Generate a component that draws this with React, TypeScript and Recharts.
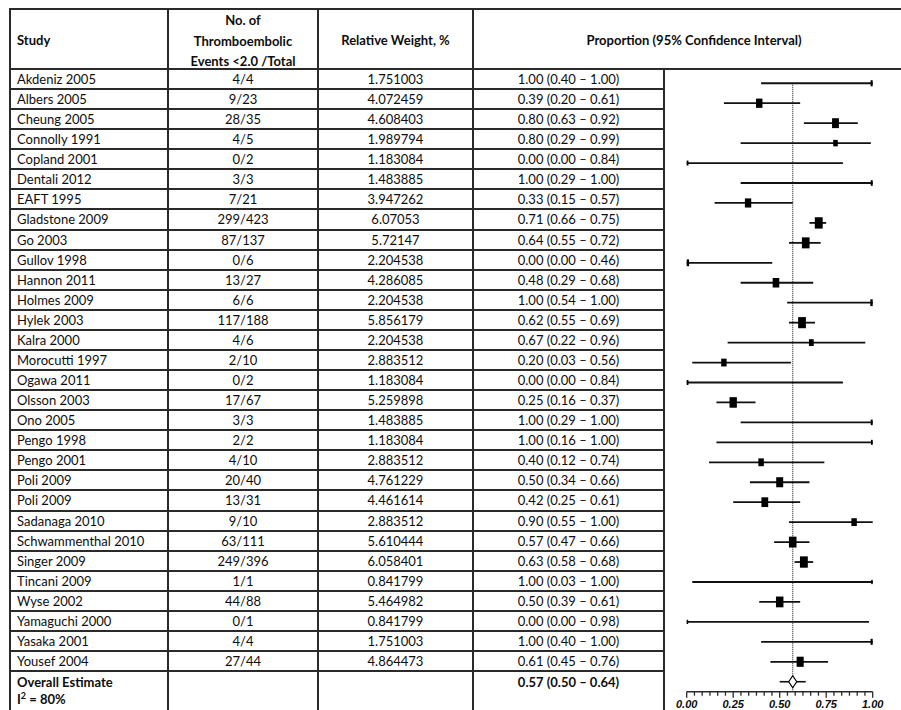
import React from 'react'
import { ScatterChart, Scatter, XAxis, YAxis, ErrorBar, ReferenceLine } from 'recharts'

const studies = [
  'Akdeniz 2005', 'Albers 2005', 'Cheung 2005', 'Connolly 1991', 'Copland 2001', 'Dentali 2012',
  'EAFT 1995', 'Gladstone 2009', 'Go 2003', 'Gullov 1998', 'Hannon 2011', 'Holmes 2009',
  'Hylek 2003', 'Kalra 2000', 'Morocutti 1997', 'Ogawa 2011', 'Olsson 2003', 'Ono 2005',
  'Pengo 1998', 'Pengo 2001', 'Poli 2009', 'Poli 2009', 'Sadanaga 2010', 'Schwammenthal 2010',
  'Singer 2009', 'Tincani 2009', 'Wyse 2002', 'Yamaguchi  2000', 'Yasaka  2001', 'Yousef 2004'
]
const events = [
  '4/4', '9/23', '28/35', '4/5', '0/2', '3/3', '7/21', '299/423', '87/137', '0/6', '13/27', '6/6',
  '117/188', '4/6', '2/10', '0/2', '17/67', '3/3', '2/2', '4/10', '20/40', '13/31', '9/10', '63/111',
  '249/396', '1/1', '44/88', '0/1', '4/4', '27/44'
]
const weights = [
  '1.751003', '4.072459', '4.608403', '1.989794', '1.183084', '1.483885', '3.947262', '6.07053',
  '5.72147', '2.204538', '4.286085', '2.204538', '5.856179', '2.204538', '2.883512', '1.183084',
  '5.259898', '1.483885', '1.183084', '2.883512', '4.761229', '4.461614', '2.883512', '5.610444',
  '6.058401', '0.841799', '5.464982', '0.841799', '1.751003', '4.864473'
]
const estimates = [
  1.0, 0.39, 0.8, 0.8, 0.0, 1.0, 0.33, 0.71, 0.64, 0.0, 0.48, 1.0, 0.62, 0.67, 0.2, 0.0, 0.25, 1.0,
  1.0, 0.4, 0.5, 0.42, 0.9, 0.57, 0.63, 1.0, 0.5, 0.0, 1.0, 0.61
]
const lowerCI = [
  0.4, 0.2, 0.63, 0.29, 0.0, 0.29, 0.15, 0.66, 0.55, 0.0, 0.29, 0.54, 0.55, 0.22, 0.03, 0.0, 0.16, 0.29,
  0.16, 0.12, 0.34, 0.25, 0.55, 0.47, 0.58, 0.03, 0.39, 0.0, 0.4, 0.45
]
const upperCI = [
  1.0, 0.61, 0.92, 0.99, 0.84, 1.0, 0.57, 0.75, 0.72, 0.46, 0.68, 1.0, 0.69, 0.96, 0.56, 0.84, 0.37, 1.0,
  1.0, 0.74, 0.66, 0.61, 1.0, 0.66, 0.68, 1.0, 0.61, 0.98, 1.0, 0.76
]
const overallEst = 0.57
const overallLo = 0.5
const overallHi = 0.64
const majorTicks = [0, 0.25, 0.5, 0.75, 1]

const fmtCI = (e: number, l: number, h: number) => `${e.toFixed(2)} (${l.toFixed(2)} – ${h.toFixed(2)})`

const studyData = studies.map((s, i) => ({
  x: estimates[i],
  y: i,
  w: parseFloat(weights[i]),
  err: [estimates[i] - lowerCI[i], upperCI[i] - estimates[i]]
}))
const overallData = [{ x: overallEst, y: studies.length, err: [overallEst - overallLo, overallHi - overallEst] }]

// minor ticks: six per quarter
const tickVals: number[] = []
majorTicks.forEach((t, i) => {
  if (i === 0) { tickVals.push(t); return }
  const prev = majorTicks[i - 1]
  for (let k = 1; k <= 6; k++) tickVals.push(prev + ((t - prev) * k) / 6)
})

const FONT = 'Lato, "Noto Sans", sans-serif'
const INK = '#0d0d0d'
const LINE = '#2a2a2a'

const ROW_TOP = 69
const ROW_H = 20.07
const COLS = [10, 168, 318, 473, 664]

const AxisTick = (props: any) => {
  const { x, y, payload } = props
  const v = payload.value as number
  const major = majorTicks.some(t => Math.abs(t - v) < 1e-6)
  return (
    <g>
      <line x1={x} x2={x} y1={y} y2={y + (major ? 6 : 4)} stroke={LINE} strokeWidth={1.3} />
      {major && (
        <text x={x} y={y + 16} textAnchor="middle" fontSize={11} fontStyle="italic" fontWeight="bold"
          fontFamily='"Liberation Sans", Arial, sans-serif' fill={INK}>
          {v.toFixed(2)}
        </text>
      )}
    </g>
  )
}

const Box = (p: any) => {
  const s = Math.sqrt(p.payload.w)
  const w = 3.2 * s
  const h = 4.6 * s
  return <rect x={p.cx - w / 2} y={p.cy - h / 2} width={w} height={h} fill="#000" />
}

const Diamond = (p: any) => {
  const { cx, cy } = p
  return <path d={`M${cx - 4},${cy} L${cx},${cy - 6} L${cx + 4},${cy} L${cx},${cy + 6} Z`} fill="#fff" stroke="#000" strokeWidth={1.2} />
}

const HLine = ({ y, x1, x2 }: { y: number; x1: number; x2: number }) => (
  <div style={{ position: 'absolute', left: x1 - 1, top: y - 1, width: x2 - x1 + 2, height: 2, background: LINE }} />
)
const VLine = ({ x, y1, y2 }: { x: number; y1: number; y2: number }) => (
  <div style={{ position: 'absolute', left: x - 1, top: y1 - 1, width: 2, height: y2 - y1 + 1, background: LINE }} />
)

const Cell = ({ left, width, top, height, align = 'center', bold = false, children }: any) => (
  <div style={{
    position: 'absolute', left, width, top, height, lineHeight: `${height}px`, textAlign: align,
    fontFamily: FONT, fontSize: 13, fontWeight: bold ? 700 : 400, color: INK, whiteSpace: 'nowrap'
  }}>{children}</div>
)

export default function App() {
  const nRows = studies.length
  return (
    <div style={{ position: 'absolute', left: 0, top: 0, width: 901, height: 710, background: '#fff', overflow: 'hidden' }}>
      {/* header */}
      <Cell left={17} width={140} top={30} height={20} align="left" bold>Study</Cell>
      <Cell left={COLS[1]} width={COLS[2] - COLS[1]} top={10} height={20} bold>No. of</Cell>
      <Cell left={COLS[1]} width={COLS[2] - COLS[1]} top={30.5} height={20} bold>Thromboembolic</Cell>
      <Cell left={COLS[1]} width={COLS[2] - COLS[1]} top={51} height={20} bold>Events &lt;2.0 /Total</Cell>
      <Cell left={COLS[2]} width={COLS[3] - COLS[2]} top={30} height={20} bold>Relative Weight, %</Cell>
      <Cell left={COLS[3]} width={442} top={30} height={20} bold>Proportion (95% Confidence Interval)</Cell>

      {studies.map((s, i) => {
        const top = ROW_TOP + ROW_H * i
        return (
          <React.Fragment key={i}>
            <Cell left={17} width={150} top={top} height={ROW_H} align="left">{s}</Cell>
            <Cell left={COLS[1]} width={COLS[2] - COLS[1]} top={top} height={ROW_H}>{events[i]}</Cell>
            <Cell left={COLS[2]} width={COLS[3] - COLS[2]} top={top} height={ROW_H}>{weights[i]}</Cell>
            <Cell left={COLS[3]} width={COLS[4] - COLS[3]} top={top} height={ROW_H}>{fmtCI(estimates[i], lowerCI[i], upperCI[i])}</Cell>
          </React.Fragment>
        )
      })}

      <Cell left={17} width={150} top={672} height={20} align="left" bold>Overall Estimate</Cell>
      <Cell left={17} width={150} top={689} height={20} align="left" bold>
        I<sup style={{ fontSize: 9, lineHeight: 0 }}>2</sup> = 80%
      </Cell>
      <Cell left={COLS[3]} width={COLS[4] - COLS[3]} top={672} height={20} bold>{fmtCI(overallEst, overallLo, overallHi)}</Cell>

      {/* grid lines */}
      <HLine y={9} x1={10} x2={901} />
      <HLine y={ROW_TOP} x1={10} x2={901} />
      {studies.map((_, i) => (
        <HLine key={i} y={ROW_TOP + ROW_H * (i + 1)} x1={10} x2={COLS[4]} />
      ))}
      {COLS.slice(0, 4).map(x => <VLine key={x} x={x} y1={9} y2={710} />)}
      <VLine x={COLS[4]} y1={ROW_TOP} y2={710} />

      <div style={{ position: 'absolute', left: 665, top: 69, width: 236, height: 641 }}>
        <ScatterChart width={236} height={641} margin={{ top: 4.3, right: 28.3, left: 21.7, bottom: 0.3 }}>
          <XAxis type="number" dataKey="x" domain={[0, 1]} ticks={tickVals} interval={0} allowDataOverflow
            tickSize={0} tickMargin={0} tickLine={false} axisLine={{ stroke: LINE, strokeWidth: 1.5 }}
            tick={<AxisTick />} height={18} />
          <YAxis type="number" dataKey="y" domain={[-0.5, nRows + 0.5]} reversed hide allowDataOverflow />
          <ReferenceLine segment={[{ x: overallEst, y: 0 }, { x: overallEst, y: nRows + 0.5 }]}
            stroke="#333" strokeDasharray="1 1" strokeWidth={1.2} />
          <Scatter data={studyData} shape={<Box />} isAnimationActive={false}>
            <ErrorBar dataKey="err" direction="x" width={0} stroke="#111" strokeWidth={1.8} isAnimationActive={false} />
          </Scatter>
          <Scatter data={overallData} shape={() => <g />} isAnimationActive={false}>
            <ErrorBar dataKey="err" direction="x" width={0} stroke="#111" strokeWidth={1.6} isAnimationActive={false} />
          </Scatter>
          <Scatter data={overallData} shape={<Diamond />} isAnimationActive={false} />
        </ScatterChart>
      </div>
    </div>
  )
}
